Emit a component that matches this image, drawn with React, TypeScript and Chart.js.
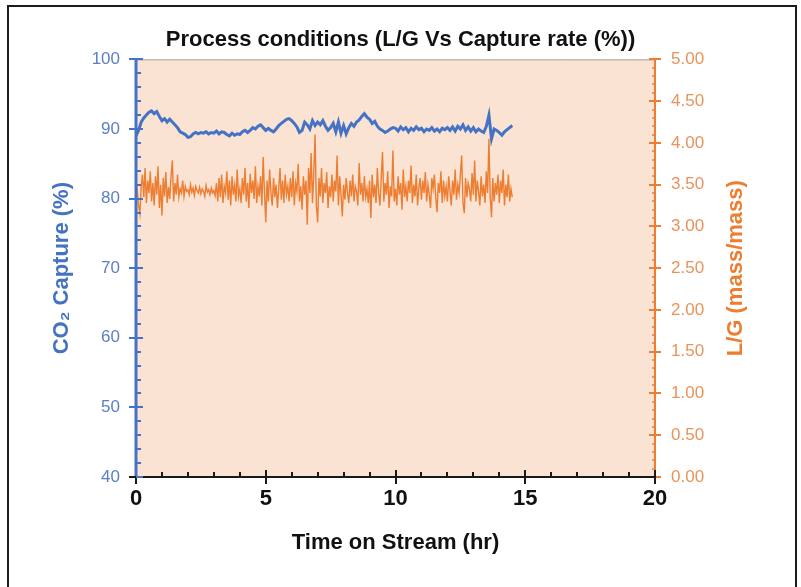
import React, { useEffect, useRef } from "react";
import { Chart, registerables } from "chart.js";

Chart.register(...registerables);

// ---------- Texts ----------
const CHART_TITLE = "Process conditions (L/G Vs Capture rate (%))";
const X_TITLE = "Time on Stream (hr)";
const Y_LEFT_TITLE = "CO₂ Capture (%)";
const Y_RIGHT_TITLE = "L/G (mass/mass)";

// ---------- Data ----------
// CO2 capture (%), sampled every 0.1 hr from t = 0
const CAPTURE_STEP_HR = 0.1;
const captureValues = [
  89.0, 89.8, 91.0, 91.6, 92.0, 92.4, 92.6, 92.2, 92.5, 91.8,
  91.2, 91.5, 91.0, 91.4, 91.0, 90.6, 90.2, 89.6, 89.4, 89.2,
  88.8, 88.9, 89.3, 89.5, 89.3, 89.5, 89.4, 89.6, 89.3, 89.5,
  89.4, 89.7, 89.3, 89.6, 89.5, 89.2, 89.0, 89.4, 89.1, 89.3,
  89.2, 89.6, 89.8, 89.5, 89.8, 90.2, 90.0, 90.4, 90.6, 90.2,
  89.8, 90.1, 89.8, 89.6, 90.0, 90.5, 90.8, 91.1, 91.4, 91.5,
  91.2, 90.8, 90.3, 89.5, 89.8, 91.0, 90.6, 90.0, 91.2, 90.5,
  91.0, 90.6, 91.2, 90.4, 89.8, 90.2, 90.8, 89.6, 91.0, 89.4,
  90.5, 89.3, 90.2, 90.8, 90.4, 91.0, 91.3, 91.8, 92.2, 91.7,
  91.4, 90.8, 91.1, 90.4, 90.0, 89.8, 89.5, 89.7, 90.0, 90.2,
  90.1, 89.7, 90.3, 89.9, 90.2, 89.6, 90.1, 89.8, 90.3, 89.9,
  90.1, 89.6, 90.0, 89.8, 90.2, 89.7, 90.0, 89.6, 90.1, 89.9,
  90.2, 89.8, 90.3, 89.7, 90.4, 90.0, 90.6, 89.8, 90.3, 89.7,
  90.2, 89.6, 90.0, 89.7, 89.5, 90.4, 92.0, 88.6, 90.0, 89.8,
  89.5, 89.1, 89.6, 89.9, 90.2, 90.5,
];

// L/G (mass/mass), sampled every 0.05 hr from t = 0
const LG_STEP_HR = 0.05;
const lgValues = [
  3.30, 3.42, 3.25, 3.15, 3.48, 3.62, 3.35, 3.70, 3.28, 3.55, 3.40, 3.66, 3.30, 3.52, 3.25, 3.60, 3.38, 3.72, 3.22, 3.50,
  3.13, 3.58, 3.36, 3.65, 3.28, 3.47, 3.33, 3.60, 3.79, 3.30, 3.52, 3.38, 3.62, 3.35, 3.45, 3.40, 3.55, 3.36, 3.48, 3.42,
  3.44, 3.38, 3.50, 3.41, 3.46, 3.37, 3.48, 3.43, 3.40, 3.47, 3.39, 3.45, 3.42, 3.36, 3.49, 3.41, 3.44, 3.38, 3.46, 3.40,
  3.43, 3.37, 3.52, 3.30, 3.58, 3.35, 3.62, 3.28, 3.48, 3.40, 3.66, 3.32, 3.55, 3.25, 3.60, 3.38, 3.50, 3.30, 3.68, 3.36,
  3.45, 3.28, 3.58, 3.38, 3.70, 3.30, 3.52, 3.22, 3.63, 3.40, 3.55, 3.33, 3.72, 3.28, 3.48, 3.36, 3.60, 3.25, 3.83, 3.42,
  3.05, 3.55, 3.30, 3.68, 3.40, 3.25, 3.58, 3.35, 3.50, 3.22, 3.45, 3.70, 3.32, 3.55, 3.28, 3.62, 3.38, 3.48, 3.30, 3.58,
  3.35, 3.66, 3.25, 3.52, 3.42, 3.75, 3.30, 3.48, 3.20, 3.60, 3.38, 3.55, 3.02, 3.70, 3.40, 3.88, 3.28, 3.62, 4.10, 3.25,
  3.05, 3.58, 3.36, 3.70, 3.28, 3.52, 3.40, 3.65, 3.22, 3.48, 3.35, 3.62, 3.30, 3.55, 3.42, 3.85, 3.25, 3.60, 3.38, 3.12,
  3.50, 3.32, 3.58, 3.40, 3.28, 3.55, 3.36, 3.62, 3.30, 3.48, 3.42, 3.25, 3.76, 3.38, 3.52, 3.30, 3.60, 3.35, 3.45, 3.28,
  3.55, 3.10, 3.62, 3.35, 3.50, 3.28, 3.70, 3.40, 3.25, 3.58, 3.89, 3.30, 3.52, 3.38, 3.66, 3.22, 3.48, 3.36, 3.91, 3.30,
  3.45, 3.25, 3.60, 3.38, 3.52, 3.20, 3.68, 3.35, 3.48, 3.30, 3.55, 3.40, 3.73, 3.28, 3.50, 3.36, 3.62, 3.25, 3.46, 3.58,
  3.32, 3.55, 3.40, 3.65, 3.30, 3.50, 3.38, 3.22, 3.58, 3.45, 3.62, 3.35, 3.17, 3.52, 3.40, 3.66, 3.28, 3.55, 3.36, 3.48,
  3.30, 3.60, 3.42, 3.25, 3.55, 3.38, 3.68, 3.32, 3.50, 3.40, 3.62, 3.85, 3.28, 3.16, 3.58, 3.35, 3.52, 3.45, 3.30, 3.64,
  3.38, 3.79, 3.30, 3.55, 3.42, 3.25, 3.60, 3.36, 3.50, 3.28, 3.66, 3.40, 4.05, 3.35, 3.11, 3.58, 3.30, 3.52, 3.38, 3.62,
  3.28, 3.55, 3.40, 3.68, 3.25, 3.50, 3.35, 3.62, 3.30, 3.45, 3.35,
];

// ---------- Axis settings ----------
const X_MIN = 0, X_MAX = 20, X_MAJOR = 5, X_MINOR = 1;
const YL_MIN = 40, YL_MAX = 100, YL_MAJOR = 10, YL_MINOR = 2;
const YR_MIN = 0, YR_MAX = 5, YR_MAJOR = 0.5, YR_MINOR = 0.1;

// ---------- Styles ----------
const BLUE = "#4472C4";
const BLUE_TEXT = "#5a7fc6";
const ORANGE = "#ED7D31";
const ORANGE_TEXT = "#e8925c";
const PLOT_BG = "#FAE3D3";
const FONT = "'Liberation Sans', Arial, sans-serif";
const TITLE_SIZE = 22;

const toPoints = (vals: number[], step: number) =>
  vals.map((v, i) => ({ x: Math.round(i * step * 1000) / 1000, y: v }));

const decorPlugin = {
  id: "decor",
  beforeDraw(chart: any) {
    const { ctx, chartArea: a } = chart;
    ctx.save();
    ctx.fillStyle = PLOT_BG;
    ctx.fillRect(a.left, a.top, a.right - a.left, a.bottom - a.top);
    ctx.restore();
  },
  afterDraw(chart: any) {
    const { ctx, chartArea: a, scales } = chart;
    const sx = scales.x, sl = scales.y, sr = scales.y1;
    const line = (x1: number, y1: number, x2: number, y2: number) => {
      ctx.beginPath();
      ctx.moveTo(x1, y1);
      ctx.lineTo(x2, y2);
      ctx.stroke();
    };
    ctx.save();
    // top border of plot area
    ctx.strokeStyle = "#a9a29c";
    ctx.lineWidth = 1;
    line(a.left, a.top + 0.5, a.right, a.top + 0.5);

    // right axis (orange)
    ctx.strokeStyle = ORANGE;
    ctx.lineWidth = 2;
    line(a.right, a.top, a.right, a.bottom);
    const nR = Math.round((YR_MAX - YR_MIN) / YR_MINOR);
    const perR = Math.round(YR_MAJOR / YR_MINOR);
    for (let i = 0; i <= nR; i++) {
      const py = Math.round(sr.getPixelForValue(YR_MIN + i * YR_MINOR));
      const major = i % perR === 0;
      ctx.lineWidth = major ? 2 : 1.5;
      if (major) line(a.right - 6, py, a.right + 6, py);
      else line(a.right - 3, py, a.right + 1, py);
    }

    // right axis title (reads bottom to top)
    ctx.save();
    ctx.translate(sr.right - 65, (a.top + a.bottom) / 2);
    ctx.rotate(-Math.PI / 2);
    ctx.textAlign = "center";
    ctx.textBaseline = "middle";
    ctx.font = `bold ${TITLE_SIZE}px ${FONT}`;
    ctx.fillStyle = ORANGE;
    ctx.fillText(Y_RIGHT_TITLE, 0, 0);
    ctx.restore();

    // bottom axis (black)
    ctx.strokeStyle = "#1a1a1a";
    ctx.lineWidth = 2;
    line(a.left, a.bottom, a.right, a.bottom);
    const nX = Math.round((X_MAX - X_MIN) / X_MINOR);
    const perX = Math.round(X_MAJOR / X_MINOR);
    for (let i = 0; i <= nX; i++) {
      const px = Math.round(sx.getPixelForValue(X_MIN + i * X_MINOR));
      const major = i % perX === 0;
      ctx.lineWidth = 2;
      if (major) line(px, a.bottom - 7, px, a.bottom + 7);
      else line(px, a.bottom - 5, px, a.bottom);
    }

    // left axis (blue)
    ctx.strokeStyle = BLUE;
    ctx.lineWidth = 3;
    line(a.left, a.top, a.left, a.bottom);
    const nL = Math.round((YL_MAX - YL_MIN) / YL_MINOR);
    const perL = Math.round(YL_MAJOR / YL_MINOR);
    for (let i = 0; i <= nL; i++) {
      const py = Math.round(sl.getPixelForValue(YL_MIN + i * YL_MINOR));
      const major = i % perL === 0;
      ctx.lineWidth = 2;
      if (major) line(a.left - 7, py, a.left + 7, py);
      else line(a.left - 1, py, a.left + 5, py);
    }
    // black tick at the origin
    ctx.strokeStyle = "#1a1a1a";
    line(a.left - 7, a.bottom, a.left, a.bottom);
    ctx.restore();
  },
};

export default function App() {
  const canvasRef = useRef<HTMLCanvasElement | null>(null);

  useEffect(() => {
    if (!canvasRef.current) return;
    const chart = new Chart(canvasRef.current, {
      type: "line",
      data: {
        datasets: [
          {
            label: "CO2 Capture",
            data: toPoints(captureValues, CAPTURE_STEP_HR),
            borderColor: BLUE,
            borderWidth: 3,
            pointRadius: 0,
            tension: 0,
            yAxisID: "y",
            order: 2,
          },
          {
            label: "L/G",
            data: toPoints(lgValues, LG_STEP_HR),
            borderColor: ORANGE,
            borderWidth: 1.4,
            pointRadius: 0,
            tension: 0,
            yAxisID: "y1",
            order: 1,
          },
        ],
      },
      options: {
        responsive: false,
        animation: false,
        events: [],
        layout: { padding: 0 },
        plugins: {
          legend: { display: false },
          tooltip: { enabled: false },
          title: {
            display: true,
            text: CHART_TITLE,
            color: "#111111",
            font: { family: FONT, size: TITLE_SIZE, weight: "bold", lineHeight: 1.2 },
            padding: { top: 27, bottom: 6 },
          },
        },
        scales: {
          x: {
            type: "linear",
            min: X_MIN,
            max: X_MAX,
            grid: { display: false, drawTicks: false },
            border: { display: false },
            ticks: {
              stepSize: X_MAJOR,
              color: "#111111",
              padding: 9,
              font: { family: FONT, size: TITLE_SIZE, weight: "bold" },
            },
            title: {
              display: true,
              text: X_TITLE,
              color: "#111111",
              font: { family: FONT, size: TITLE_SIZE, weight: "bold", lineHeight: 1.2 },
              padding: { top: 0, bottom: 31 },
            },
            afterFit: (s: any) => {
              s.height = 110;
            },
          },
          y: {
            type: "linear",
            position: "left",
            min: YL_MIN,
            max: YL_MAX,
            grid: { display: false, drawTicks: false },
            border: { display: false },
            ticks: {
              stepSize: YL_MAJOR,
              color: BLUE_TEXT,
              padding: 16,
              font: { family: FONT, size: 17 },
            },
            title: {
              display: true,
              text: Y_LEFT_TITLE,
              color: BLUE,
              font: { family: FONT, size: TITLE_SIZE, weight: "bold", lineHeight: 1.2 },
              padding: { top: 49, bottom: 0 },
            },
            afterFit: (s: any) => {
              s.width = 136;
            },
          },
          y1: {
            type: "linear",
            position: "right",
            min: YR_MIN,
            max: YR_MAX,
            grid: { display: false, drawTicks: false },
            border: { display: false },
            ticks: {
              stepSize: YR_MAJOR,
              color: ORANGE_TEXT,
              padding: 16,
              font: { family: FONT, size: 17 },
              callback: (v: any) => Number(v).toFixed(2),
            },
            title: { display: false },
            afterFit: (s: any) => {
              s.width = 146;
            },
          },
        },
      },
      plugins: [decorPlugin],
    });
    return () => chart.destroy();
  }, []);

  return (
    <div
      style={{
        position: "absolute",
        left: 0,
        top: 0,
        width: 801,
        height: 587,
        background: "#ffffff",
        overflow: "hidden",
      }}
    >
      <canvas
        ref={canvasRef}
        width={801}
        height={587}
        style={{ display: "block", position: "absolute", left: 0, top: 0 }}
      />
      <div
        style={{
          position: "absolute",
          left: 7,
          top: 5,
          width: 790,
          height: 620,
          border: "2px solid #1c1c1c",
          boxSizing: "border-box",
          pointerEvents: "none",
        }}
      />
    </div>
  );
}
